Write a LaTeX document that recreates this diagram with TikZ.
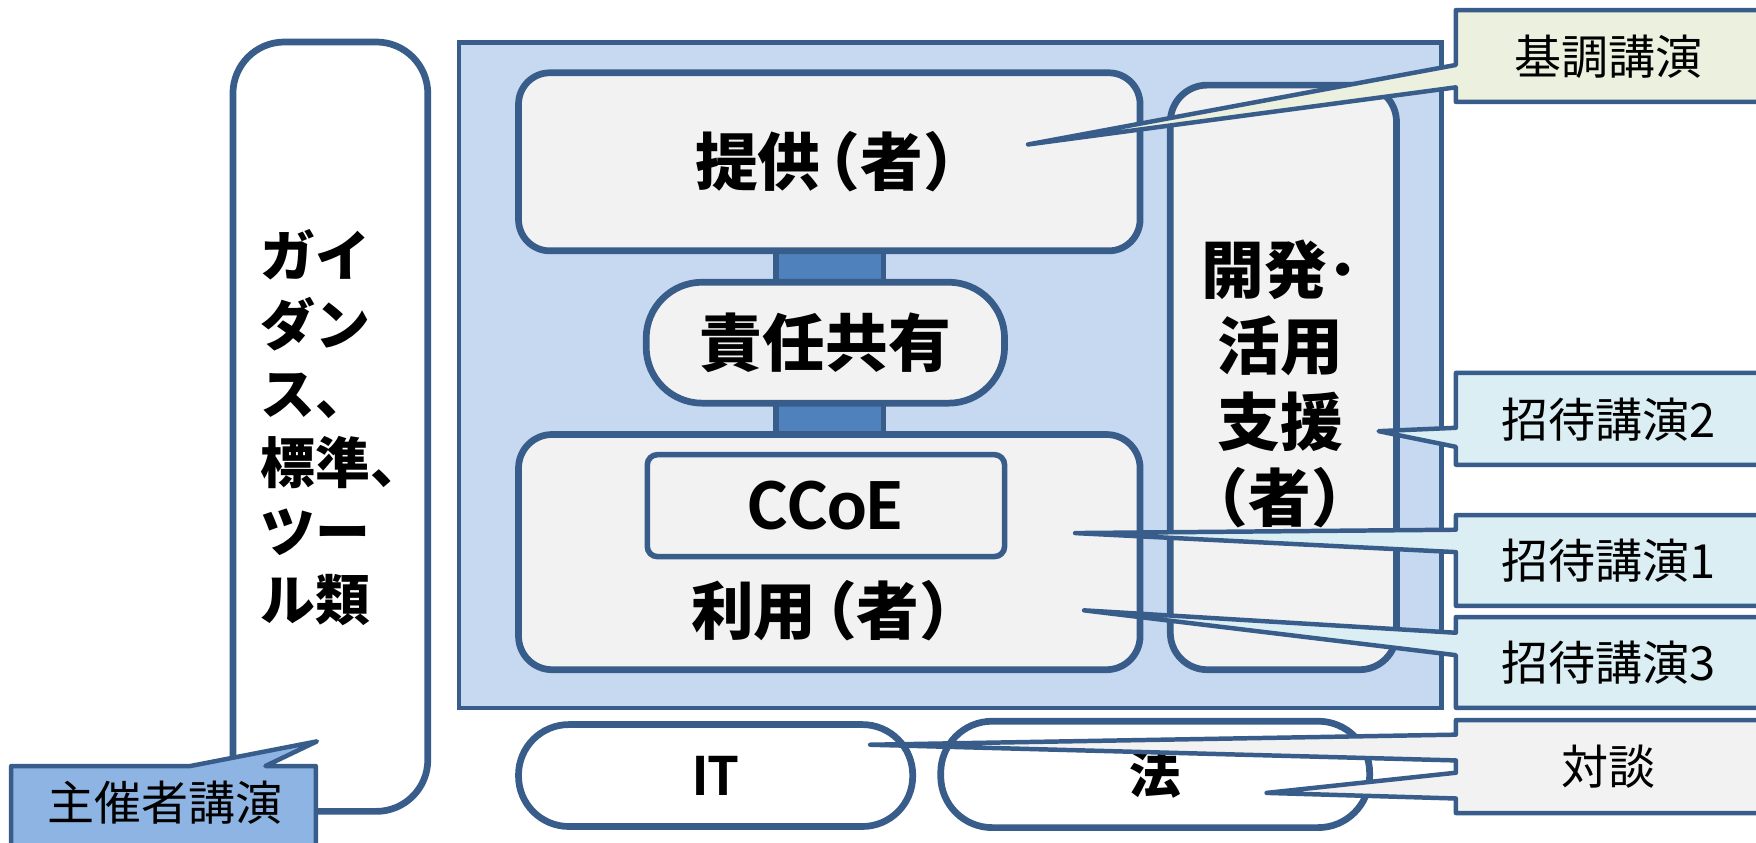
\documentclass[tikz,border=0pt]{standalone}
\usepackage{fontspec}
\newfontfamily\jp{Noto Sans CJK JP}
\newfontfamily\lat{Carlito}
\definecolor{edge}{HTML}{385D8A}
\definecolor{outerblue}{HTML}{C6D9F1}
\definecolor{barblue}{HTML}{4F81BD}
\definecolor{boxgray}{HTML}{F2F2F2}
\definecolor{keynote}{HTML}{EBF1DE}
\definecolor{invited}{HTML}{DBEEF4}
\definecolor{hostblue}{HTML}{8EB4E3}
\newcommand{\lpar}{\kern-.36em（}
\newcommand{\rpar}{）\kern-.36em}
\begin{document}
\begin{tikzpicture}[x=1pt,y=-1pt,
  every node/.style={inner sep=0pt, outer sep=0pt},
  thickbox/.style={draw=edge, line width=6pt},
  callout/.style={draw=edge, line width=4pt, line join=round},
  boldlbl/.style={font=\jp\bfseries\fontsize{56}{68}\selectfont, align=center},
  clbl/.style={font=\jp\fontsize{42}{50}\selectfont},
]
\useasboundingbox (0,0) rectangle (1568,752);
\clip (0,0) rectangle (1568,752);
\fill[white] (0,0) rectangle (1568,752);

% outer frame
\node[draw=edge, line width=4pt, fill=outerblue, minimum width=877pt, minimum height=594pt] (frame) at (848.5,335) {};

% left tall box
\node[thickbox, fill=white, rounded corners=46pt, minimum width=174pt, minimum height=687pt] (guide) at (295,381) {};
\node[font=\jp\bfseries\fontsize{49}{61.5}\selectfont, align=left, anchor=west] (guidetxt) at (233,382) {ガイ\\ダン\\ス、\\標準、\\ツー\\ル類};

% bars
\node[draw=edge, line width=5pt, fill=barblue, minimum width=96pt, minimum height=40pt] (bar1) at (741,238) {};
\node[draw=edge, line width=5pt, fill=barblue, minimum width=96pt, minimum height=40pt] (bar2) at (741,374) {};

% provider
\node[thickbox, fill=boxgray, rounded corners=28pt, minimum width=555pt, minimum height=159pt, boldlbl] (prov) at (740.5,144.5) {提供\lpar 者\rpar};
% shared responsibility
\node[thickbox, fill=boxgray, rounded corners=50pt, minimum width=320pt, minimum height=108pt, boldlbl] (share) at (737,306) {責任共有};
% user
\node[thickbox, fill=boxgray, rounded corners=30pt, minimum width=555pt, minimum height=210pt] (user) at (740.5,493) {};
\node[boldlbl] (usertxt) at (737,545) {利用\lpar 者\rpar};
\node[draw=edge, line width=5pt, fill=boxgray, rounded corners=9pt, minimum width=319pt, minimum height=91pt, font=\lat\bfseries\fontsize{66}{70}\selectfont] (ccoe) at (737.5,451.5) {CCoE};
% development support
\node[thickbox, fill=boxgray, rounded corners=33pt, minimum width=202pt, minimum height=522pt] (dev) at (1146,337) {};
\node[boldlbl] (devtxt) at (1143,343) {開発･\\活用\\支援\\\lpar 者\rpar};

% pills
\node[thickbox, fill=white, rounded corners=45pt, minimum width=352pt, minimum height=91pt, font=\lat\bfseries\fontsize{54}{60}\selectfont] (it) at (639,692.5) {IT};
\node[thickbox, fill=white, rounded corners=46pt, minimum width=383pt, minimum height=95pt, font=\jp\bfseries\fontsize{46}{50}\selectfont] (law) at (1031.5,691.5) {法};

% callout tips
\coordinate (tipKey) at (918,129);
\coordinate (tipInv2) at (1231,385);
\coordinate (tipInv1) at (960,476);
\coordinate (tipInv3) at (968,545);
\coordinate (tipIT) at (777,665);
\coordinate (tipLaw) at (1131,708);
\coordinate (tipHost) at (283,662);

% callouts
\path[callout, fill=keynote] (1300,9) -- (1590,9) -- (1590,91) -- (1300,91) -- (1300,78) -- (tipKey) -- (1300,58) -- cycle;
\node[clbl] (keytxt) at (1436,51) {基調講演};

\path[callout, fill=invited] (1300,333) -- (1590,333) -- (1590,415) -- (1300,415) -- (1300,399) -- (tipInv2) -- (1300,382) -- cycle;
\node[clbl] (inv2txt) at (1436,375) {招待講演2};

\path[callout, fill=invited] (1300,460) -- (1590,460) -- (1590,541) -- (1300,541) -- (1300,493) -- (tipInv1) -- (1300,473) -- cycle;
\node[clbl] (inv1txt) at (1436,501) {招待講演1};

\path[callout, fill=invited] (1300,551) -- (1590,551) -- (1590,632) -- (1300,632) -- (1300,585) -- (tipInv3) -- (1300,565) -- cycle;
\node[clbl] (inv3txt) at (1436,592) {招待講演3};

\path[callout, fill=boxgray] (1300,643) -- (1590,643) -- (1590,726) -- (1300,726) -- (1300,713) -- (tipLaw) -- (1300,690) -- (1300,679) -- (tipIT) -- (1300,656) -- cycle;
\node[clbl] (talktxt) at (1436,685) {対談};

\path[callout, fill=hostblue] (10,684) -- (170,684) -- (tipHost) -- (237,684) -- (282,684) -- (282,770) -- (10,770) -- cycle;
\node[clbl] (hosttxt) at (147,717) {主催者講演};
\end{tikzpicture}
\end{document}
